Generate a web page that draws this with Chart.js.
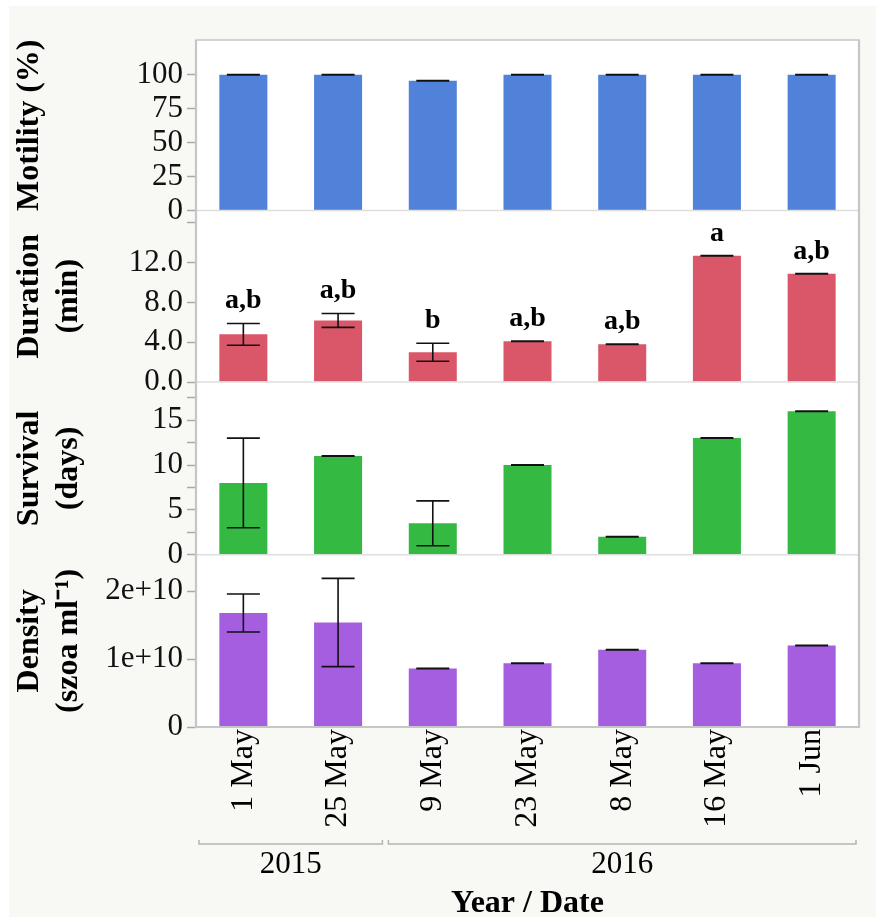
<!DOCTYPE html>
<html>
<head>
<meta charset="utf-8">
<script src="https://cdn.jsdelivr.net/npm/chart.js@4/dist/chart.umd.min.js"></script>
<style>
  html, body { margin: 0; padding: 0; background: #ffffff; }
  #wrap { width: 876px; height: 917px; position: relative; }
</style>
</head>
<body>
<div id="wrap"><canvas id="c" width="876" height="917"></canvas></div>
<script>
// Sampling dates and the year each one belongs to
const dates = ['1 May', '25 May', '9 May', '23 May', '8 May', '16 May', '1 Jun'];
const yearOfDate = ['2015', '2015', '2016', '2016', '2016', '2016', '2016'];

// Sperm motility (%)
const motility = [100, 100, 95.5, 100, 100, 100, 100];
const motilityErr = [0, 0, 0, 0, 0, 0, 0];

// Motility duration (min) with significance groups
const duration = [4.8, 6.2, 3.0, 4.1, 3.8, 12.7, 10.9];
const durationErr = [1.1, 0.7, 0.9, 0, 0, 0, 0];
const durationGroups = ['a,b', 'a,b', 'b', 'a,b', 'a,b', 'a', 'a,b'];

// Survival (days)
const survival = [8, 11, 3.5, 10, 2, 13, 16];
const survivalErr = [5, 0, 2.5, 0, 0, 0, 0];

// Sperm density (szoa per ml)
const density = [1.68e10, 1.54e10, 0.863e10, 0.94e10, 1.14e10, 0.94e10, 1.2e10];
const densityErr = [0.28e10, 0.65e10, 0, 0, 0, 0, 0];

// Axis ticks per panel (value, label)
const motilityTicks = [0, 25, 50, 75, 100];
const motilityTickLabels = ['0', '25', '50', '75', '100'];
const durationTicks = [0, 4, 8, 12, 16];
const durationTickLabels = ['0.0', '4.0', '8.0', '12.0', ''];
const survivalTicks = [0, 2.5, 5, 7.5, 10, 12.5, 15, 17.5];
const survivalTickLabels = ['0', '', '5', '', '10', '', '15', ''];
const densityTicks = [0, 1e10, 2e10];
const densityTickLabels = ['0', '1e+10', '2e+10'];

const SERIF = "'Liberation Serif', 'Times New Roman', serif";
const PANEL_BG = '#f8f8f4';
const FRAME = '#c6c6c6';

function yScale(opts) {
  return {
    type: 'linear',
    position: 'left',
    stack: 'panels',
    stackWeight: opts.weight,
    min: 0,
    max: opts.max,
    afterBuildTicks: (s) => { s.ticks = opts.ticks.map(v => ({ value: v })); },
    afterFit: (s) => { s.width = 196; },
    ticks: {
      autoSkip: false,
      padding: 4,
      color: '#111',
      font: { family: SERIF, size: 31 },
      callback: (v, i) => opts.labels[i]
    },
    grid: {
      drawOnChartArea: false,
      drawTicks: true,
      tickLength: 9,
      tickWidth: 1.5,
      color: '#a9a9a9'
    },
    border: { display: false },
    title: {
      display: true,
      text: opts.title,
      align: 'center',
      color: '#000',
      font: { family: SERIF, size: 32, weight: 'bold', lineHeight: 1.22 },
      padding: { top: 10.5, bottom: 0 }
    }
  };
}

function errorsFor(id) {
  return { yMot: motilityErr, yDur: durationErr, ySur: survivalErr, yDen: densityErr }[id];
}

// Background: figure frame and white plotting area
const backdrop = {
  id: 'backdrop',
  beforeDraw(chart) {
    const ctx = chart.ctx;
    const a = chart.chartArea;
    ctx.save();
    ctx.fillStyle = '#ffffff';
    ctx.fillRect(0, 0, chart.width, chart.height);
    ctx.fillStyle = PANEL_BG;
    ctx.fillRect(9, 6, chart.width - 9, chart.height - 6);
    ctx.fillStyle = '#ffffff';
    ctx.fillRect(a.left, a.top, a.right - a.left, a.bottom - a.top);
    ctx.restore();
  }
};

// Error bars, group letters, frame, year brackets and axis title
const overlay = {
  id: 'overlay',
  afterDatasetsDraw(chart) {
    const ctx = chart.ctx;
    ctx.save();
    chart.data.datasets.forEach((ds, di) => {
      const meta = chart.getDatasetMeta(di);
      const sc = chart.scales[ds.yAxisID];
      const errs = errorsFor(ds.yAxisID);
      meta.data.forEach((bar, i) => {
        const v = ds.data[i];
        const e = errs[i];
        const x = bar.x;
        const half = 16.5;
        ctx.strokeStyle = '#111';
        if (e > 0) {
          const yt = sc.getPixelForValue(v + e);
          const yb = sc.getPixelForValue(v - e);
          ctx.lineWidth = 1.6;
          ctx.beginPath();
          ctx.moveTo(x, yt); ctx.lineTo(x, yb);
          ctx.moveTo(x - half, yt); ctx.lineTo(x + half, yt);
          ctx.moveTo(x - half, yb); ctx.lineTo(x + half, yb);
          ctx.stroke();
        } else {
          const y = sc.getPixelForValue(v);
          ctx.lineWidth = 2;
          ctx.beginPath();
          ctx.moveTo(x - half, y); ctx.lineTo(x + half, y);
          ctx.stroke();
        }
        if (ds.yAxisID === 'yDur') {
          const yl = sc.getPixelForValue(v + e) - 15;
          ctx.fillStyle = '#000';
          ctx.font = 'bold 28px ' + SERIF;
          ctx.textAlign = 'center';
          ctx.textBaseline = 'alphabetic';
          ctx.fillText(durationGroups[i], x, yl);
        }
      });
    });
    ctx.restore();
  },
  afterDraw(chart) {
    const ctx = chart.ctx;
    const a = chart.chartArea;
    ctx.save();
    // panel separators
    ctx.strokeStyle = '#dedede';
    ctx.lineWidth = 1.5;
    ['yMot', 'yDur', 'ySur'].forEach(id => {
      const y = chart.scales[id].bottom;
      ctx.beginPath();
      ctx.moveTo(a.left, y); ctx.lineTo(a.right, y);
      ctx.stroke();
    });
    // frame
    ctx.strokeStyle = FRAME;
    ctx.lineWidth = 1.5;
    ctx.strokeRect(a.left, a.top, a.right - a.left, a.bottom - a.top);
    ctx.lineWidth = 2.2;
    ctx.beginPath();
    ctx.moveTo(a.left, a.top); ctx.lineTo(a.left, a.bottom); ctx.lineTo(a.right, a.bottom); ctx.lineTo(a.right, a.top);
    ctx.stroke();

    // year brackets under the date labels
    const xs = chart.scales.x;
    const step = xs.getPixelForValue(1) - xs.getPixelForValue(0);
    const groups = [];
    yearOfDate.forEach((y, i) => {
      const g = groups[groups.length - 1];
      if (g && g.year === y) g.to = i; else groups.push({ year: y, from: i, to: i });
    });
    const by = a.bottom + 117;
    groups.forEach(g => {
      const x0 = xs.getPixelForValue(g.from) - step / 2 + 3;
      const x1 = xs.getPixelForValue(g.to) + step / 2 - 3;
      ctx.strokeStyle = '#b4b4b4';
      ctx.lineWidth = 1.5;
      ctx.beginPath();
      ctx.moveTo(x0, by - 4); ctx.lineTo(x0, by); ctx.lineTo(x1, by); ctx.lineTo(x1, by - 4);
      ctx.stroke();
      ctx.fillStyle = '#000';
      ctx.font = '31px ' + SERIF;
      ctx.textAlign = 'center';
      ctx.textBaseline = 'alphabetic';
      ctx.fillText(g.year, (x0 + x1) / 2, by + 29);
    });
    ctx.font = 'bold 32px ' + SERIF;
    ctx.fillText('Year / Date', (a.left + a.right) / 2, a.bottom + 185);
    ctx.restore();
  }
};

const barBase = {
  grouped: false,
  barPercentage: 0.507,
  categoryPercentage: 1.0,
  borderWidth: 0
};

new Chart(document.getElementById('c'), {
  type: 'bar',
  data: {
    labels: dates,
    datasets: [
      Object.assign({ label: 'Motility (%)', data: motility, yAxisID: 'yMot', backgroundColor: '#5082da' }, barBase),
      Object.assign({ label: 'Duration (min)', data: duration, yAxisID: 'yDur', backgroundColor: '#da576a' }, barBase),
      Object.assign({ label: 'Survival (days)', data: survival, yAxisID: 'ySur', backgroundColor: '#34b942' }, barBase),
      Object.assign({ label: 'Density (szoa ml⁻¹)', data: density, yAxisID: 'yDen', backgroundColor: '#a55ee0' }, barBase)
    ]
  },
  options: {
    responsive: false,
    devicePixelRatio: 1,
    animation: false,
    layout: { padding: { top: 40, right: 17, bottom: 0, left: 0 } },
    plugins: { legend: { display: false }, tooltip: { enabled: false } },
    scales: {
      x: {
        type: 'category',
        position: 'bottom',
        offset: true,
        afterFit: (s) => { s.height = 190; },
        grid: { display: false, drawTicks: false },
        border: { display: false },
        ticks: {
          autoSkip: false,
          minRotation: 90,
          maxRotation: 90,
          padding: 2,
          color: '#000',
          font: { family: SERIF, size: 32 }
        }
      },
      yDen: yScale({ weight: 172.4, max: 2.54e10, ticks: densityTicks, labels: densityTickLabels, title: ['Density', '(szoa ml⁻¹)'] }),
      ySur: yScale({ weight: 172.6, max: 19.25, ticks: survivalTicks, labels: survivalTickLabels, title: ['Survival', '(days)'] }),
      yDur: yScale({ weight: 171.7, max: 17.26, ticks: durationTicks, labels: durationTickLabels, title: ['Duration', '(min)'] }),
      yMot: yScale({ weight: 170.5, max: 125.6, ticks: motilityTicks, labels: motilityTickLabels, title: 'Motility (%)' })
    }
  },
  plugins: [backdrop, overlay]
});
</script>
</body>
</html>
